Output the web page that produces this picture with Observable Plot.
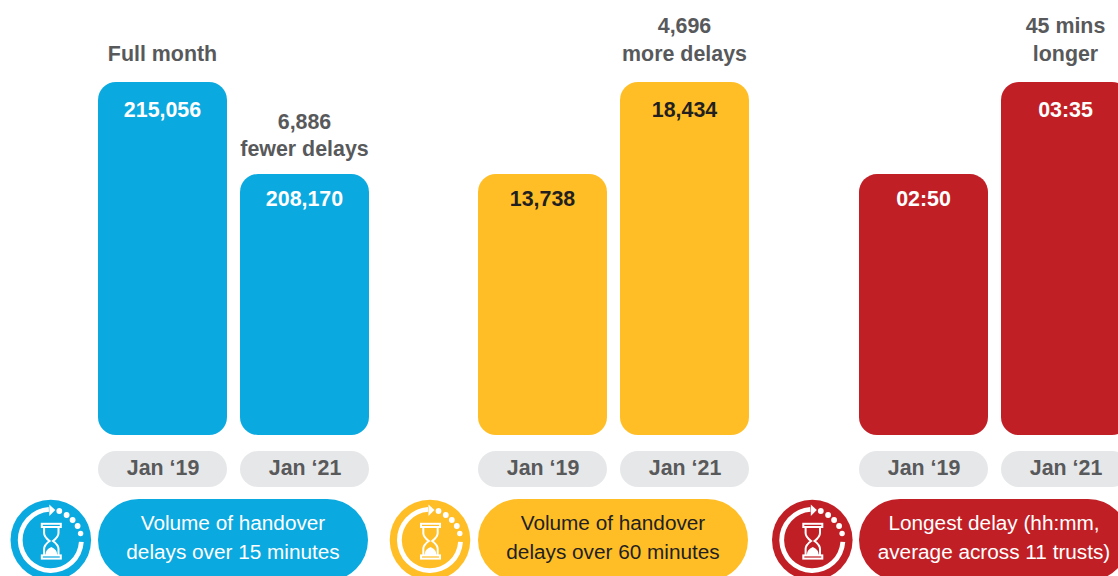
<!DOCTYPE html>
<html>
<head>
<meta charset="utf-8">
<script src="https://cdn.jsdelivr.net/npm/d3@7"></script>
<script src="https://cdn.jsdelivr.net/npm/@observablehq/plot@0.6"></script>
<style>
  html, body { margin: 0; padding: 0; background: #fff; overflow: hidden; }
  #chart { display: flex; width: 1118px; height: 576px; overflow: hidden; }
  #chart svg { display: block; flex: none; }
</style>
</head>
<body>
<div id="chart"></div>
<script>
// Ambulance handover delays, January 2019 against January 2021
const months = ["Jan ‘19", "Jan ‘21"];

const over15Values = [215056, 208170];
const over60Values = [13738, 18434];
const longestMinutes = [170, 215];

const over15Notes = ["Full month", "6,886\nfewer delays"];
const over60Notes = ["", "4,696\nmore delays"];
const longestNotes = ["", "45 mins\nlonger"];

const over15Caption = ["Volume of handover", "delays over 15 minutes"];
const over60Caption = ["Volume of handover", "delays over 60 minutes"];
const longestCaption = ["Longest delay (hh:mm,", "average across 11 trusts)"];

// Each panel runs on its own truncated value axis
const over15Domain = [188635, 215056];
const over60Domain = [416, 18434];
const longestDomain = [42.4, 215];

const blue = "#0aa9e0";
const yellow = "#ffbe26";
const red = "#c11f26";
const grey = "#58595b";
const ink = "#231f20";
const font = "Liberation Sans";

const hhmm = (m) => `${String(Math.floor(m / 60)).padStart(2, "0")}:${String(m % 60).padStart(2, "0")}`;

// Month pills behind the axis labels
function monthPills(index, scales) {
  const g = d3.create("svg:g");
  for (const m of months) {
    g.append("rect")
      .attr("x", scales.x(m)).attr("y", 451)
      .attr("width", 129).attr("height", 36)
      .attr("rx", 18).attr("fill", "#e6e7e8");
  }
  return g.node();
}

// Round hourglass badge and the pill-shaped caption under the bars
function captionBlock(color, lines, textColor, badgeX) {
  return () => {
    const g = d3.create("svg:g");
    const badge = g.append("g").attr("transform", `translate(${badgeX},540)`);
    badge.append("circle").attr("r", 40.3).attr("fill", color);
    badge.append("path")
      .attr("d", d3.arc()({innerRadius: 28.2, outerRadius: 33, startAngle: Math.PI * 0.52, endAngle: Math.PI * 1.98, cornerRadius: 2}))
      .attr("fill", "#fff");
    badge.append("path").attr("d", "M-1.5,-35.5 L4.5,-30 L-1.5,-24 Z").attr("fill", "#fff");
    for (const [x, y, r] of [[8.5, -29, 2.9], [15.8, -25, 2.9], [21.8, -20, 2.9], [26.8, -14, 2.9], [29.8, -6.5, 2.7]]) {
      badge.append("circle").attr("cx", x).attr("cy", y).attr("r", r).attr("fill", "#fff");
    }
    const glass = badge.append("g").attr("fill", "none").attr("stroke", "#fff").attr("stroke-width", 2);
    glass.append("rect").attr("x", -9).attr("y", -16.2).attr("width", 19).attr("height", 3.2);
    glass.append("rect").attr("x", -9).attr("y", 15.4).attr("width", 19).attr("height", 3.2);
    glass.append("path").attr("d", "M-6.7,-13 V-7 Q-6.7,-3 -1.2,1 Q-6.7,5 -6.7,9 V15.4 M7.7,-13 V-7 Q7.7,-3 2.2,1 Q7.7,5 7.7,9 V15.4");
    badge.append("path").attr("d", "M-5.5,15 Q-5.5,9.5 0.5,7 Q6.5,9.5 6.5,15 Z").attr("fill", "#fff");

    g.append("rect")
      .attr("x", 98).attr("y", 499)
      .attr("width", 270).attr("height", 82)
      .attr("rx", 41).attr("fill", color);
    lines.forEach((line, i) => {
      g.append("text")
        .attr("x", 233).attr("y", 523 + i * 29)
        .attr("dy", "0.35em")
        .attr("text-anchor", "middle")
        .attr("font-family", font).attr("font-size", 20.75)
        .attr("fill", textColor)
        .text(line);
    });
    return g.node();
  };
}

function panel({width, values, domain, notes, format, color, valueColor, caption, captionColor, badgeX}) {
  const tallest = d3.max(values);
  const rows = months.map((month, i) => ({month, value: values[i], note: notes[i]}));
  const tall = rows.filter((d) => d.value === tallest);
  const short = rows.filter((d) => d.value !== tallest);
  const base = domain[0];
  const bold = {x: "month", y: "value", dx: -0.5, fontSize: 21.4, fontWeight: 700};
  const noteStyle = {...bold, text: "note", lineAnchor: "bottom", lineHeight: 1.27, fill: grey};
  const valueStyle = {...bold, text: (d) => format(d.value), fill: valueColor};
  return Plot.plot({
    width,
    height: 576,
    marginTop: 82,
    marginBottom: 141,
    marginLeft: 0,
    marginRight: 0,
    style: {background: "transparent", fontFamily: font},
    x: {type: "band", domain: months, range: [98, 369], paddingInner: 13 / 142, paddingOuter: 0},
    y: {domain, axis: null},
    marks: [
      monthPills,
      Plot.axisX({tickSize: 0, tickPadding: 24, fontSize: 21.4, fontWeight: 700, fill: grey, label: null, tickFormat: (d) => d}),
      Plot.barY(rows, {x: "month", y1: () => base, y2: "value", fill: color, rx: 18, ry: 18}),
      Plot.text(tall, {...valueStyle, dy: 28}),
      Plot.text(short, {...valueStyle, dy: 25}),
      Plot.text(tall, {...noteStyle, dy: -22}),
      Plot.text(short, {...noteStyle, dy: -18.5}),
      captionBlock(color, caption, captionColor, badgeX)
    ]
  });
}

const chart = document.getElementById("chart");
const comma = d3.format(",");

chart.append(panel({
  width: 380, values: over15Values, domain: over15Domain, notes: over15Notes, format: comma,
  color: blue, valueColor: "#fff", caption: over15Caption, captionColor: "#fff", badgeX: 50.8
}));
chart.append(panel({
  width: 381, values: over60Values, domain: over60Domain, notes: over60Notes, format: comma,
  color: yellow, valueColor: ink, caption: over60Caption, captionColor: ink, badgeX: 50
}));
chart.append(panel({
  width: 357, values: longestMinutes, domain: longestDomain, notes: longestNotes, format: hhmm,
  color: red, valueColor: "#fff", caption: longestCaption, captionColor: "#fff", badgeX: 51.3
}));
</script>
</body>
</html>
